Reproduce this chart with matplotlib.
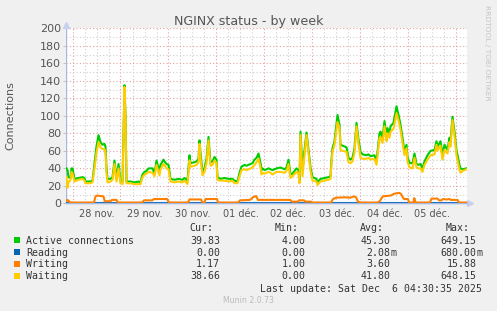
import matplotlib
matplotlib.use("Agg")
import matplotlib.pyplot as plt
from matplotlib.patches import Rectangle

# ---- data (hours since 28 nov 00:00, 30 min resolution) ----
conn_hours = [-3, -2.5, -2, -1, -0.5, 0, 1, 3, 5, 6, 6.5, 9, 10, 11, 12, 13, 14, 15, 16, 16.5,
              17, 17.5, 19, 20, 21, 21.5, 22, 23, 23.5, 24, 25, 26, 26.5, 27, 29, 31, 33, 34,
              35, 36, 37, 38, 40, 41, 42, 43, 43.5, 44, 45.5, 46, 47, 48, 49, 51, 53, 55, 56,
              57.5, 58.5, 59, 61, 62, 63, 63.5, 64, 65, 66, 67, 68, 68.5, 69, 70, 71, 72, 72.5,
              74, 76, 78, 80, 81, 82.5, 83.5, 84.5, 86, 87, 89, 90, 91, 92, 93, 94, 94.5, 95,
              96, 98, 99, 100, 102, 104, 106, 107, 108, 109, 110, 112, 113, 113.5, 114, 115,
              116, 117, 118, 119, 120, 122, 122.5, 124, 126, 128, 129, 129.5, 130, 131, 132.5,
              133.5, 134, 135, 137, 138, 139, 140, 141, 142, 143, 144, 145, 147, 148, 149, 151,
              152, 153.5, 154, 155, 156, 157, 157.5, 158.5, 159, 160.5, 162, 163, 164, 165, 166,
              167, 167.5, 168.5, 170, 171, 172, 173, 174, 175, 176, 177.5, 179, 181, 182, 182.5,
              184, 185, 186, 187.5, 188.5, 189, 190, 191, 192, 193.5, 194, 195, 197]
active = [40, 38, 30, 29, 40, 40, 28, 29, 30, 29, 25, 25, 26, 45, 65, 78, 70, 67, 68, 65,
          40, 28, 28, 30, 49, 38, 28, 45, 35, 25, 24, 135, 100, 25, 25, 24, 25, 24,
          33, 36, 37, 40, 40, 34, 49, 40, 36, 44, 50, 48, 45, 44, 28, 27, 28, 27, 29,
          26, 55, 46, 47, 48, 51, 72, 58, 36, 40, 51, 76, 60, 47, 48, 53, 50, 30,
          28, 29, 28, 28, 26, 25, 35, 42, 44, 43, 45, 46, 50, 52, 57, 46, 38, 40,
          38, 40, 39, 38, 40, 41, 39, 41, 50, 33, 34, 40, 38, 26, 82, 40,
          60, 81, 61, 41, 30, 28, 24, 28, 29, 30, 31, 50, 63, 71, 101,
          90, 67, 66, 64, 52, 50, 52, 63, 92, 73, 59, 56, 55, 56, 54, 55,
          48, 80, 82, 75, 94, 76, 86, 80, 88, 92, 111, 101, 90, 75, 59,
          67, 53, 46, 46, 57, 45, 44, 45, 40, 48, 55, 60, 61, 71, 65,
          71, 55, 67, 61, 75, 70, 99, 82, 61, 44, 40, 39, 40]
waiting = [30, 18, 24, 27, 36, 34, 25, 27, 28, 26, 23, 23, 24, 40, 58, 70, 64, 62, 62, 58,
           35, 24, 25, 27, 45, 34, 25, 40, 31, 23, 22, 133, 98, 23, 23, 22, 22, 22,
           30, 33, 34, 36, 35, 31, 44, 36, 32, 39, 45, 44, 40, 39, 25, 24, 25, 24, 26,
           22, 49, 42, 43, 44, 47, 68, 52, 32, 36, 46, 72, 55, 43, 44, 49, 46, 27,
           26, 26, 25, 26, 23, 23, 31, 38, 39, 38, 40, 41, 44, 47, 51, 41, 33, 35,
           34, 36, 35, 33, 36, 36, 35, 37, 45, 29, 31, 36, 34, 23, 78, 31,
           55, 78, 57, 37, 26, 25, 21, 25, 26, 27, 28, 46, 59, 67, 93,
           86, 61, 60, 59, 47, 46, 48, 58, 88, 68, 52, 51, 51, 52, 50, 51,
           44, 75, 76, 69, 88, 71, 80, 75, 82, 85, 103, 95, 84, 69, 55,
           63, 48, 41, 40, 52, 41, 40, 40, 36, 44, 50, 55, 56, 67, 60,
           66, 50, 61, 57, 70, 65, 95, 77, 55, 38, 35, 37, 39]

write_hours = [-3, -2.5, -1.5, -1, 10.75, 11.5, 12.25, 13.75, 15.5, 16.1, 19, 19.75, 22, 22.75,
               34.75, 35.75, 39.75, 40.75, 47.25, 48.25, 57.75, 58.5, 64.25, 65, 66, 66.5,
               72.25, 72.75, 82.75, 83.75, 88.75, 90.25, 91.75, 92.75, 108.75, 109.75, 112.75,
               113.25, 115.75, 116.5, 119.25, 120, 129.25, 130.25, 131.75, 136.25, 138.75,
               140.75, 141.75, 142.75, 144.25, 152.75, 153.75, 155.1, 159.25, 160.75, 163.25,
               164.25, 165.1, 165.75, 167.75, 168.25, 170.5, 170.9, 171.5, 178.75, 179.5,
               182.5, 183.25, 184.5, 185.25, 187.25, 188.25, 189.25, 192.5, 193.25, 197]
writing = [3, 4, 2, 1, 1, 8, 9, 8.5, 8, 2.5, 2.5, 4, 4, 1,
           1, 3.5, 3.5, 5, 5, 1, 1, 4.5, 4.5, 1, 1, 5,
           5, 1, 1, 3.5, 4, 7, 8.5, 4, 4, 2, 2,
           3.5, 3.5, 2, 2, 1, 1, 5, 6.5, 7, 6.5,
           8, 7, 2, 1, 1, 3, 8, 9, 11, 12,
           11, 7, 5, 5, 1, 1, 6, 1, 1, 5.5,
           5.5, 3.5, 3.5, 5, 4.5, 5, 4, 4, 1, 1]

read_hours = [-3, 197]
reading = [0.0, 0.0]

day_labels = ['28 nov.', '29 nov.', '30 nov.', '01 déc.', '02 déc.', '03 déc.', '04 déc.', '05 déc.']

series_names = ['Active connections', 'Reading', 'Writing', 'Waiting']
series_colors = ['#00CC00', '#0066B3', '#FF8000', '#FFCC00']
cur_vals = [39.83, 0.0, 1.17, 38.66]
min_vals = [4.00, 0.0, 1.00, 0.0]
avg_vals = [45.30, 0.00208, 3.60, 41.80]
max_vals = [649.15, 0.680, 15.88, 648.15]

# ---- figure ----
W, H = 497, 311
BG = '#F0F0F0'
TXT = '#555555'
AXC = '#A8B8E4'
fig = plt.figure(figsize=(W / 100, H / 100), dpi=100, facecolor=BG)


def fx(x):
    return x / W


def fy(y):
    return 1 - y / H


ax = fig.add_axes([fx(66), fy(203.4), (467 - 66) / W, (203.4 - 28.3) / H])
ax.set_facecolor('white')
ax.set_xlim(-3.25, 197.25)
ax.set_ylim(0, 200)

# grid
for h in range(0, 197, 6):
    if h % 24 == 0:
        ax.axvline(h, color='#E6A0A0', lw=0.8, ls=(0, (1, 2)), zorder=1)
    else:
        ax.axvline(h, color='#CFCFCF', lw=0.8, ls=(0, (1, 2)), zorder=1)
for v in range(10, 201, 10):
    c = '#E6A0A0' if v % 20 == 0 else '#CFCFCF'
    ax.axhline(v, color=c, lw=0.8, ls=(0, (1, 2)), zorder=1)

lw = 1.5
ax.plot(conn_hours, active, color=series_colors[0], lw=lw, zorder=3)
ax.plot(read_hours, reading, color=series_colors[1], lw=lw, zorder=3, clip_on=False)
# rrdtool draws its axis over the graph lines
ax.axhline(0, color=AXC, lw=1, zorder=3.5, clip_on=False)
ax.plot(write_hours, writing, color=series_colors[2], lw=lw, zorder=4)
ax.plot(conn_hours, waiting, color=series_colors[3], lw=lw, zorder=5)

for s in ax.spines.values():
    s.set_visible(False)
ax.axvline(-3.25, color=AXC, lw=1, zorder=2)
ax.plot([-3.25], [204], marker='^', color='#C8D0F0', ms=5, clip_on=False)
ax.plot([199], [0], marker='>', color='#C8D0F0', ms=5, clip_on=False)

ax.set_xticks([12 + 24 * i for i in range(len(day_labels))])
ax.set_xticklabels(day_labels)
ax.set_yticks(range(0, 201, 20))
ax.tick_params(axis='x', length=0, pad=4, labelsize=7, labelcolor=TXT)
ax.tick_params(axis='y', length=2, width=0.6, color='#BBBBBB', pad=1.5, labelsize=8, labelcolor=TXT)

ax.set_ylabel('Connections', fontsize=8, color=TXT, labelpad=0)
ax.yaxis.set_label_coords((15.5 - 66) / 401, 0.5)

fig.text(fx(248.5), fy(24.5), 'NGINX status - by week', ha='center', va='baseline',
         fontsize=9.1, color=TXT)
fig.text(fx(487), fy(5), 'RRDTOOL / TOBI OETIKER', rotation=270, ha='center', va='top',
         fontsize=5.4, color='#C4C4C4')

# ---- legend ----
MONO = 'DejaVu Sans Mono'
MS = 7.1
LEG = '#333333'


def munin_fmt(v):
    if v != 0 and abs(v) < 1:
        return '%.2f' % (v * 1000), 'm'
    return '%.2f' % v, ''


headers = ['Cur:', 'Min:', 'Avg:', 'Max:']
col_right = [220, 305.7, 390.7, 476.7]
columns = [cur_vals, min_vals, avg_vals, max_vals]
for hdr, xr in zip(headers, col_right):
    fig.text(fx(xr - 7), fy(231.3), hdr, ha='right', va='baseline', family=MONO, fontsize=MS, color=LEG)

row_base = [243.5, 255.5, 267.4, 279.3]
for i, name in enumerate(series_names):
    yb = row_base[i]
    fig.patches.append(Rectangle((fx(14), fy(yb - 0.8)), 6 / W, 6 / H, transform=fig.transFigure,
                                 facecolor=series_colors[i], edgecolor='none'))
    fig.text(fx(26), fy(yb), name, ha='left', va='baseline', family=MONO, fontsize=MS, color=LEG)
    for col, xr in zip(columns, col_right):
        num, suf = munin_fmt(col[i])
        fig.text(fx(xr), fy(yb), num, ha='right', va='baseline', family=MONO, fontsize=MS, color=LEG)
        if suf:
            fig.text(fx(xr), fy(yb), suf, ha='left', va='baseline', family=MONO, fontsize=MS, color=LEG)

fig.text(fx(482), fy(291.7), 'Last update: Sat Dec  6 04:30:35 2025', ha='right', va='baseline',
         family=MONO, fontsize=MS, color=LEG)
fig.text(fx(248), fy(302.7), 'Munin 2.0.73', ha='center', va='baseline', fontsize=5.6, color='#BBBBBB')

fig.savefig('out.png', dpi=100, facecolor=BG)
